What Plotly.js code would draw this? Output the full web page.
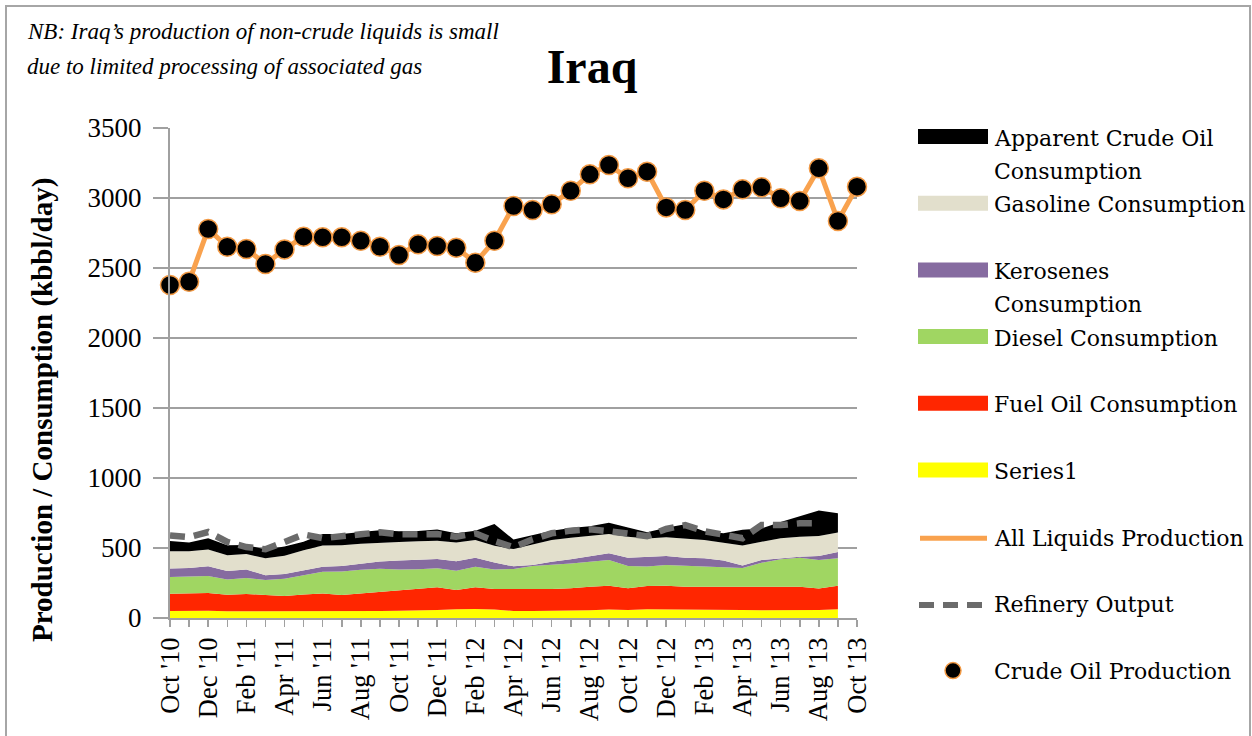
<!DOCTYPE html>
<html>
<head>
<meta charset="utf-8">
<script src="https://cdn.plot.ly/plotly-3.0.1.min.js"></script>
<style>
  html, body { margin: 0; padding: 0; background: #ffffff; }
  #chart { width: 1252px; height: 736px; }
</style>
</head>
<body>
<div id="chart"></div>
<script>
// Monthly categories, Oct 2010 to Oct 2013
const months = [
  "Oct '10", "Nov '10", "Dec '10", "Jan '11", "Feb '11", "Mar '11", "Apr '11", "May '11", "Jun '11",
  "Jul '11", "Aug '11", "Sep '11", "Oct '11", "Nov '11", "Dec '11", "Jan '12", "Feb '12", "Mar '12",
  "Apr '12", "May '12", "Jun '12", "Jul '12", "Aug '12", "Sep '12", "Oct '12", "Nov '12", "Dec '12",
  "Jan '13", "Feb '13", "Mar '13", "Apr '13", "May '13", "Jun '13", "Jul '13", "Aug '13", "Sep '13",
  "Oct '13"
];

// Consumption by product, kbbl/day (stacked, Oct '10 - Sep '13)
const series1 = [50, 52, 52, 48, 48, 46, 45, 46, 47, 47, 48, 50, 52, 53, 57, 62, 65, 60,
  50, 50, 50, 52, 55, 60, 58, 62, 62, 60, 62, 58, 57, 56, 55, 55, 58, 62];
const fuelOil = [124, 126, 126, 118, 124, 118, 113, 122, 128, 117, 128, 137, 144, 157, 162, 138, 154, 148,
  155, 157, 157, 160, 169, 171, 154, 167, 169, 164, 162, 166, 162, 163, 166, 169, 152, 169];
const diesel = [119, 120, 122, 109, 113, 108, 122, 137, 156, 168, 169, 165, 150, 139, 137, 138, 147, 139,
  145, 164, 172, 178, 178, 183, 159, 138, 148, 147, 143, 138, 139, 176, 198, 207, 204, 195];
const kerosenes = [60, 60, 70, 61, 62, 33, 35, 37, 35, 39, 40, 51, 64, 69, 65, 68, 64, 49,
  19, 8, 23, 29, 36, 48, 60, 71, 64, 60, 59, 48, 17, 19, 7, 7, 29, 45];
const gasoline = [124, 119, 120, 112, 110, 122, 130, 142, 151, 149, 145, 135, 132, 130, 130, 133, 128, 120,
  123, 146, 155, 155, 148, 138, 150, 129, 133, 133, 131, 128, 142, 131, 143, 143, 143, 139];
const apparentCrude = [73, 63, 80, 72, 65, 63, 65, 61, 83, 80, 85, 89, 78, 74, 82, 67, 66, 156,
  68, 68, 67, 69, 69, 80, 64, 45, 69, 106, 63, 67, 113, 95, 116, 147, 182, 138];

// Refinery output, kbbl/day (Oct '10 - Aug '13)
const refinery = [590, 578, 614, 543, 507, 491, 543, 597, 570, 580, 598, 612, 598, 598, 600, 580, 605, 550,
  505, 562, 605, 624, 633, 620, 605, 585, 636, 664, 620, 590, 570, 664, 664, 676, 676];

// Production, kbbl/day (Oct '10 - Oct '13)
const allLiquids = [2379, 2402, 2779, 2652, 2636, 2529, 2633, 2724, 2719, 2719, 2695, 2652, 2593, 2669, 2657,
  2645, 2538, 2695, 2943, 2914, 2955, 3052, 3169, 3236, 3141, 3188, 2933, 2914, 3052, 2990, 3062, 3076,
  2998, 2979, 3212, 2836, 3081];
const crudeOil = [2379, 2402, 2779, 2652, 2636, 2529, 2633, 2724, 2719, 2719, 2695, 2652, 2593, 2669, 2657,
  2645, 2538, 2695, 2943, 2914, 2955, 3052, 3169, 3236, 3141, 3188, 2933, 2914, 3052, 2990, 3062, 3076,
  2998, 2979, 3212, 2836, 3081];

// Every month gets a tick mark; every second month gets a label
const tickLabels = months.map((m, i) => (i % 2 === 0 ? m : ""));

// Legend entries, top to bottom
const legendLabels = [
  ["Apparent Crude Oil", "Consumption"],
  ["Gasoline Consumption"],
  ["Kerosenes", "Consumption"],
  ["Diesel Consumption"],
  ["Fuel Oil Consumption"],
  ["Series1"],
  ["All Liquids Production"],
  ["Refinery Output"],
  ["Crude Oil Production"]
];

const colors = {
  apparent: "#000000", gasoline: "#E2DFCC", kerosenes: "#866BA0", diesel: "#A0D662",
  fuelOil: "#FF2600", series1: "#FFFF00", liquids: "#F9A24E", refinery: "#6B6B6B",
  crudeFill: "#000000", crudeEdge: "#F39A45"
};

const stackMonths = months.slice(0, series1.length);
const refineryMonths = months.slice(0, refinery.length);

function area(name, values, color) {
  return {
    type: "scatter", mode: "lines", name: name,
    x: stackMonths, y: values,
    stackgroup: "consumption", fill: "tonexty",
    line: { width: 0, color: color }, fillcolor: color,
    hoverinfo: "x+y+name"
  };
}

const traces = [
  area("Series1", series1, colors.series1),
  area("Fuel Oil Consumption", fuelOil, colors.fuelOil),
  area("Diesel Consumption", diesel, colors.diesel),
  area("Kerosenes Consumption", kerosenes, colors.kerosenes),
  area("Gasoline Consumption", gasoline, colors.gasoline),
  area("Apparent Crude Oil Consumption", apparentCrude, colors.apparent),
  {
    type: "scatter", mode: "lines", name: "Refinery Output",
    x: refineryMonths, y: refinery,
    line: { color: colors.refinery, width: 6.5, dash: "15px,9px" }
  },
  {
    type: "scatter", mode: "lines", name: "All Liquids Production",
    x: months, y: allLiquids, cliponaxis: false,
    line: { color: colors.liquids, width: 5 }
  },
  {
    type: "scatter", mode: "markers", name: "Crude Oil Production",
    x: months, y: crudeOil, cliponaxis: false,
    marker: { size: 19, color: colors.crudeFill, line: { color: colors.crudeEdge, width: 1.5 } }
  }
];

// Page geometry of the plotting area
const plotLeft = 170, plotRight = 857, plotTop = 128, plotBottom = 618;
const pw = plotRight - plotLeft, ph = plotBottom - plotTop;
const px = (x) => (x - plotLeft) / pw;        // page x -> paper x
const py = (y) => (plotBottom - y) / ph;      // page y -> paper y

// Hand-built legend (wide swatches, two-line rows)
const legTop = 138, legStep = 66.7, legLine = 33.5;
const symX0 = 918, symX1 = 988, textX = 992;
const legendShapes = [];
const legendNotes = [];
legendLabels.forEach((lines, i) => {
  const yc = legTop + i * legStep;
  lines.forEach((t, k) => {
    legendNotes.push({
      text: t, xref: "paper", yref: "paper", x: px(textX), y: py(yc + k * legLine),
      xanchor: "left", yanchor: "middle", showarrow: false,
      font: { family: "DejaVu Serif, serif", size: 22, color: "#000000" }
    });
  });
});
const swatchColors = [colors.apparent, colors.gasoline, colors.kerosenes, colors.diesel, colors.fuelOil, colors.series1];
swatchColors.forEach((c, i) => {
  const yc = legTop - 1.5 + i * legStep;
  legendShapes.push({
    type: "rect", xref: "paper", yref: "paper",
    x0: px(symX0), x1: px(symX1), y0: py(yc + 7.5), y1: py(yc - 7.5),
    fillcolor: c, line: { width: 0 }
  });
});
{
  const yl = legTop + 6 * legStep;
  legendShapes.push({
    type: "line", xref: "paper", yref: "paper",
    x0: px(symX0 + 2), x1: px(symX1 - 1), y0: py(yl), y1: py(yl),
    line: { color: colors.liquids, width: 5 }
  });
  const yr = legTop + 7 * legStep;
  legendShapes.push({
    type: "line", xref: "paper", yref: "paper",
    x0: px(symX0 + 1), x1: px(symX1 - 5), y0: py(yr), y1: py(yr),
    line: { color: colors.refinery, width: 6, dash: "15px,9px" }
  });
  const ym = legTop + 8 * legStep - 1;
  legendShapes.push({
    type: "circle", xref: "paper", yref: "paper",
    x0: px(953 - 8), x1: px(953 + 8), y0: py(ym + 8), y1: py(ym - 8),
    fillcolor: colors.crudeFill, line: { color: colors.crudeEdge, width: 1.5 }
  });
}

const layout = {
  width: 1252, height: 736,
  margin: { l: plotLeft, r: 1252 - plotRight, t: plotTop, b: 736 - plotBottom, pad: 0 },
  paper_bgcolor: "#ffffff", plot_bgcolor: "#ffffff",
  font: { family: "Liberation Serif, serif", color: "#000000" },
  showlegend: false,
  title: {
    text: "<b>Iraq</b>",
    font: { family: "Liberation Serif, serif", size: 48, color: "#000000" },
    xref: "container", x: 592 / 1252, xanchor: "center",
    yref: "container", y: 1 - 66 / 736, yanchor: "middle"
  },
  xaxis: {
    type: "category",
    range: [0, months.length - 1],
    tickmode: "array", tickvals: months, ticktext: tickLabels,
    tickangle: -90,
    tickfont: { family: "Liberation Serif, serif", size: 26.5, color: "#000000" },
    ticks: "outside", ticklen: 7, tickwidth: 1.5, tickcolor: "#A0A0A0",
    showline: true, linecolor: "#A0A0A0", linewidth: 2,
    showgrid: false, zeroline: false, fixedrange: true
  },
  yaxis: {
    range: [0, 3500], dtick: 500, tick0: 0,
    tickfont: { family: "Liberation Serif, serif", size: 27, color: "#000000" },
    ticks: "outside", ticklen: 15, tickwidth: 1.5, tickcolor: "#A0A0A0",
    ticklabelstandoff: 6,
    showline: true, linecolor: "#A0A0A0", linewidth: 2,
    showgrid: true, gridcolor: "#A0A0A0", gridwidth: 1.5,
    zeroline: false, fixedrange: true
  },
  shapes: [
    {
      type: "rect", xref: "paper", yref: "paper",
      x0: px(6), x1: px(1250), y0: py(760), y1: py(6),
      line: { color: "#A6A6A6", width: 2 }, fillcolor: "rgba(0,0,0,0)", layer: "below"
    }
  ].concat(legendShapes),
  annotations: [
    {
      text: "<i>NB: Iraq\u2019s production of non-crude liquids is small</i>",
      xref: "paper", yref: "paper", x: px(25), y: py(31), xanchor: "left", yanchor: "middle",
      showarrow: false, font: { family: "Liberation Serif, serif", size: 23, color: "#000000" }
    },
    {
      text: "<i>due to limited processing of associated gas</i>",
      xref: "paper", yref: "paper", x: px(25), y: py(66), xanchor: "left", yanchor: "middle",
      showarrow: false, font: { family: "Liberation Serif, serif", size: 23, color: "#000000" }
    },
    {
      text: "<b>Production / Consumption (kbbl/day)</b>",
      xref: "paper", yref: "paper", x: px(42), y: py(410), xanchor: "center", yanchor: "middle",
      textangle: -90, showarrow: false,
      font: { family: "Liberation Serif, serif", size: 29, color: "#000000" }
    }
  ].concat(legendNotes)
};

Plotly.newPlot("chart", traces, layout, { displayModeBar: false, staticPlot: true });
</script>
</body>
</html>
